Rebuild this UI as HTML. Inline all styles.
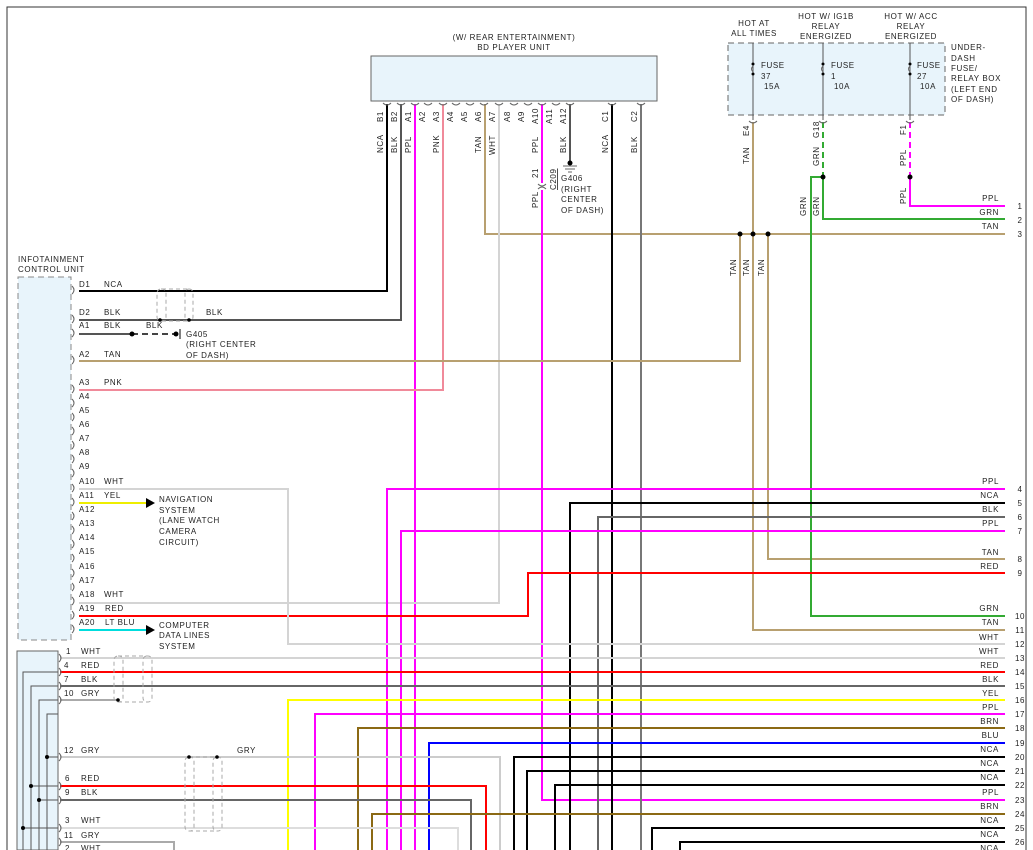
<!DOCTYPE html>
<html><head><meta charset="utf-8"><style>
html,body{margin:0;padding:0;background:#fff;width:1033px;height:850px;overflow:hidden}
svg text{font-family:"Liberation Sans",sans-serif;font-size:8px;fill:#222;letter-spacing:0.6px}
</style></head><body>
<svg width="1033" height="850" viewBox="0 0 1033 850" xmlns="http://www.w3.org/2000/svg">
<g fill="none" stroke-width="2">
<!-- frame -->
<path d="M7 850V7H1026V850" stroke="#333" stroke-width="1"/>
<!-- BD unit -->
<rect x="371" y="56" width="286" height="45" fill="#e8f4fb" stroke="#666" stroke-width="1"/>
<!-- fuse box -->
<rect x="728" y="43" width="217" height="72" fill="#e8f4fb" stroke="#666" stroke-width="1" stroke-dasharray="6,4"/>
<!-- infotainment -->
<rect x="18" y="277" width="53" height="363" fill="#e8f4fb" stroke="#888" stroke-width="1" stroke-dasharray="6,4"/>
<rect x="17" y="651" width="41" height="199" fill="#e8f4fb" stroke="#666" stroke-width="1"/>

<!-- BD pins wires -->
<path d="M387 104V291H79" stroke="#000"/>
<path d="M401 104V320H79" stroke="#555"/>
<path d="M415 104V850" stroke="#f0f"/>
<path d="M443 104V390H79" stroke="#f08a9a"/>
<path d="M485 104V234H1005" stroke="#b8a070"/>
<path d="M499 104V603H79" stroke="#d4d4d4"/>
<path d="M542 104V183M542 190V800H1005" stroke="#f0f"/>
<path d="M570 104V162" stroke="#555"/>
<path d="M612 104V850" stroke="#000"/>
<path d="M641 104V850" stroke="#777"/>
<!-- fuse wires -->
<path d="M753 43V120M823 43V120M910 43V120" stroke="#555" stroke-width="1"/>
<path d="M753 122V630H1005" stroke="#b8a070"/>
<path d="M740 234V361H79" stroke="#b8a070"/>
<path d="M768 234V559H1005" stroke="#b8a070"/>
<path d="M823 122V177" stroke="#3a3" stroke-dasharray="6,4"/>
<path d="M823 177V219H1005" stroke="#3a3"/>
<path d="M823 177H811V616H1005" stroke="#3a3"/>
<path d="M910 122V177" stroke="#f0f" stroke-dasharray="6,4"/>
<path d="M910 177V206H1005" stroke="#f0f"/>
<!-- right wires -->
<path d="M387 850V489H1005" stroke="#f0f"/>
<path d="M570 850V503H1005" stroke="#000"/>
<path d="M598 850V517H1005" stroke="#666"/>
<path d="M401 850V531H1005" stroke="#f0f"/>
<path d="M79 616H528V573H1005" stroke="#f00"/>
<path d="M79 489H288V644H1005" stroke="#d4d4d4"/>
<path d="M60 658H1005" stroke="#d4d4d4"/>
<path d="M60 672H1005" stroke="#f00"/>
<path d="M60 686H1005" stroke="#666"/>
<path d="M60 700H118" stroke="#aaa"/>
<path d="M288 850V700H1005" stroke="#ff0"/>
<path d="M315 850V714H1005" stroke="#f0f"/>
<path d="M358 850V728H1005" stroke="#8b6914"/>
<path d="M429 850V743H1005" stroke="#00f"/>
<path d="M60 757H500V850" stroke="#ccc"/>
<path d="M514 850V757H1005" stroke="#000"/>
<path d="M527 850V771H1005" stroke="#000"/>
<path d="M555 850V785H1005" stroke="#000"/>
<path d="M60 786H486V850" stroke="#f00"/>
<path d="M60 800H471V850" stroke="#666"/>
<path d="M372 850V814H1005" stroke="#8b6914"/>
<path d="M60 828H458V850" stroke="#ddd"/>
<path d="M652 850V828H1005" stroke="#000"/>
<path d="M60 842H174V850" stroke="#aaa"/>
<path d="M680 850V842H1005" stroke="#000"/>
<path d="M79 503H146" stroke="#ee0"/>
<path d="M79 630H146" stroke="#0dd"/>
<!-- left connector internal lines -->
<path d="M23 850V672H58M31 850V686H58M39 850V700H58M47 850V714H58" stroke="#555" stroke-width="1"/>
<path d="M23 828H58M31 786H58M39 800H58M47 757H58" stroke="#555" stroke-width="1"/>
<!-- A1 ground -->
<path d="M79 334H132" stroke="#555"/>
<path d="M132 334H176" stroke="#444" stroke-dasharray="6,4"/>
<path d="M180 329V339" stroke="#000" stroke-width="1"/>
<!-- shields -->
<g stroke="#aaa" stroke-width="1" stroke-dasharray="4,3">
<rect x="157" y="289" width="9" height="32" rx="4"/><rect x="185" y="289" width="8" height="32" rx="4"/>
<rect x="114" y="656" width="9" height="46" rx="4"/><rect x="143" y="656" width="9" height="46" rx="4"/>
<rect x="185" y="757" width="9" height="74" rx="4"/><rect x="213" y="757" width="9" height="74" rx="4"/>
<path d="M162 289H189M162 321H189M118 656H148M118 702H148M189 831H218M189 757H218"/>
</g>
<!-- pin arcs on BD -->
<g stroke="#666" stroke-width="1">
<path d="M383 103q4 4 8 0M397 103q4 4 8 0M411 103q4 4 8 0M424 103q4 4 8 0M439 103q4 4 8 0M452 103q4 4 8 0M466 103q4 4 8 0M480 103q4 4 8 0M495 103q4 4 8 0M510 103q4 4 8 0M524 103q4 4 8 0M538 103q4 4 8 0M552 103q4 4 8 0M566 103q4 4 8 0M608 103q4 4 8 0M637 103q4 4 8 0"/>
<path d="M749 121q4 4 8 0M819 121q4 4 8 0M906 121q4 4 8 0M538 184q4 4 8 0M538 189q4 -4 8 0"/>
<path d="M72 286q4 4 0 8M72 315q4 4 0 8M72 329q4 4 0 8M72 356q4 4 0 8M72 385q4 4 0 8M72 399q4 4 0 8M72 413q4 4 0 8M72 427q4 4 0 8M72 441q4 4 0 8M72 455q4 4 0 8M72 469q4 4 0 8M72 484q4 4 0 8M72 498q4 4 0 8M72 512q4 4 0 8M72 526q4 4 0 8M72 540q4 4 0 8M72 554q4 4 0 8M72 569q4 4 0 8M72 583q4 4 0 8M72 597q4 4 0 8M72 611q4 4 0 8M72 625q4 4 0 8"/>
<path d="M59 654q4 4 0 8M59 668q4 4 0 8M59 682q4 4 0 8M59 696q4 4 0 8M59 753q4 4 0 8M59 782q4 4 0 8M59 796q4 4 0 8M59 824q4 4 0 8M59 838q4 4 0 8"/>
<path d="M753 62v4q-3 3 0 6v4M823 62v4q-3 3 0 6v4M910 62v4q-3 3 0 6v4"/>
<path d="M563 166h14M565 169h10M568 172h4"/>
</g>
</g>
<!-- dots -->
<g fill="#000">
<circle cx="740" cy="234" r="2.5"/><circle cx="753" cy="234" r="2.5"/><circle cx="768" cy="234" r="2.5"/>
<circle cx="823" cy="177" r="2.5"/><circle cx="910" cy="177" r="2.5"/>
<circle cx="132" cy="334" r="2.5"/><circle cx="176" cy="334" r="2.5"/><circle cx="160" cy="320" r="1.8"/><circle cx="189" cy="320" r="1.8"/>
<circle cx="118" cy="700" r="1.8"/><circle cx="189" cy="757" r="1.8"/><circle cx="217" cy="757" r="1.8"/>
<circle cx="47" cy="757" r="2"/><circle cx="31" cy="786" r="2"/><circle cx="39" cy="800" r="2"/><circle cx="23" cy="828" r="2"/>
<circle cx="570" cy="163" r="2.5"/><circle cx="753" cy="64" r="1.5"/><circle cx="753" cy="74" r="1.5"/><circle cx="823" cy="64" r="1.5"/><circle cx="823" cy="74" r="1.5"/><circle cx="910" cy="64" r="1.5"/><circle cx="910" cy="74" r="1.5"/>
<path d="M146 498l9 5-9 5z"/><path d="M146 625l9 5-9 5z"/>
</g>
<!-- text -->
<g>
<text x="514" y="40" text-anchor="middle">(W/ REAR ENTERTAINMENT)</text>
<text x="514" y="50" text-anchor="middle">BD PLAYER UNIT</text>
<text x="754" y="26" text-anchor="middle">HOT AT</text><text x="754" y="36" text-anchor="middle">ALL TIMES</text>
<text x="826" y="19" text-anchor="middle">HOT W/ IG1B</text><text x="826" y="29" text-anchor="middle">RELAY</text><text x="826" y="39" text-anchor="middle">ENERGIZED</text>
<text x="911" y="19" text-anchor="middle">HOT W/ ACC</text><text x="911" y="29" text-anchor="middle">RELAY</text><text x="911" y="39" text-anchor="middle">ENERGIZED</text>
<text x="951" y="50">UNDER-</text><text x="951" y="61">DASH</text><text x="951" y="71">FUSE/</text><text x="951" y="81">RELAY BOX</text><text x="951" y="92">(LEFT END</text><text x="951" y="102">OF DASH)</text>
<text x="761" y="68">FUSE</text><text x="761" y="79">37</text><text x="764" y="89">15A</text>
<text x="831" y="68">FUSE</text><text x="831" y="79">1</text><text x="834" y="89">10A</text>
<text x="917" y="68">FUSE</text><text x="917" y="79">27</text><text x="920" y="89">10A</text>
<text x="18" y="262">INFOTAINMENT</text><text x="18" y="272">CONTROL UNIT</text>
<text x="79" y="287">D1</text><text x="104" y="287">NCA</text>
<text x="79" y="315">D2</text><text x="104" y="315">BLK</text><text x="206" y="315">BLK</text>
<text x="79" y="328">A1</text><text x="104" y="328">BLK</text><text x="146" y="328">BLK</text>
<text x="186" y="337">G405</text><text x="186" y="347">(RIGHT CENTER</text><text x="186" y="358">OF DASH)</text>
<text x="79" y="357">A2</text><text x="104" y="357">TAN</text>
<text x="79" y="385">A3</text><text x="104" y="385">PNK</text>
<text x="79" y="399">A4</text><text x="79" y="413">A5</text><text x="79" y="427">A6</text><text x="79" y="441">A7</text><text x="79" y="455">A8</text><text x="79" y="469">A9</text>
<text x="79" y="484">A10</text><text x="104" y="484">WHT</text>
<text x="79" y="498">A11</text><text x="104" y="498">YEL</text>
<text x="79" y="512">A12</text><text x="79" y="526">A13</text><text x="79" y="540">A14</text><text x="79" y="554">A15</text><text x="79" y="569">A16</text><text x="79" y="583">A17</text>
<text x="79" y="597">A18</text><text x="104" y="597">WHT</text>
<text x="79" y="611">A19</text><text x="105" y="611">RED</text>
<text x="79" y="625">A20</text><text x="105" y="625">LT BLU</text>
<text x="159" y="502">NAVIGATION</text><text x="159" y="513">SYSTEM</text><text x="159" y="523">(LANE WATCH</text><text x="159" y="534">CAMERA</text><text x="159" y="545">CIRCUIT)</text>
<text x="159" y="628">COMPUTER</text><text x="159" y="638">DATA LINES</text><text x="159" y="649">SYSTEM</text>
<text x="66" y="654">1</text><text x="81" y="654">WHT</text>
<text x="64" y="668">4</text><text x="81" y="668">RED</text>
<text x="64" y="682">7</text><text x="81" y="682">BLK</text>
<text x="64" y="696">10</text><text x="81" y="696">GRY</text>
<text x="64" y="753">12</text><text x="81" y="753">GRY</text><text x="237" y="753">GRY</text>
<text x="65" y="781">6</text><text x="81" y="781">RED</text>
<text x="65" y="795">9</text><text x="81" y="795">BLK</text>
<text x="65" y="823">3</text><text x="81" y="823">WHT</text>
<text x="64" y="838">11</text><text x="81" y="838">GRY</text>
<text x="65" y="851">2</text><text x="81" y="851">WHT</text>
<text x="561" y="181">G406</text><text x="561" y="192">(RIGHT</text><text x="561" y="202">CENTER</text><text x="561" y="213">OF DASH)</text>
</g>
<!-- vertical labels -->
<g>
<text transform="translate(383,122) rotate(-90)">B1</text><text transform="translate(383,153) rotate(-90)">NCA</text>
<text transform="translate(397,122) rotate(-90)">B2</text><text transform="translate(397,153) rotate(-90)">BLK</text>
<text transform="translate(411,122) rotate(-90)">A1</text><text transform="translate(411,153) rotate(-90)">PPL</text>
<text transform="translate(425,122) rotate(-90)">A2</text>
<text transform="translate(439,122) rotate(-90)">A3</text><text transform="translate(439,153) rotate(-90)">PNK</text>
<text transform="translate(453,122) rotate(-90)">A4</text>
<text transform="translate(467,122) rotate(-90)">A5</text>
<text transform="translate(481,122) rotate(-90)">A6</text><text transform="translate(481,153) rotate(-90)">TAN</text>
<text transform="translate(495,122) rotate(-90)">A7</text><text transform="translate(495,155) rotate(-90)">WHT</text>
<text transform="translate(510,122) rotate(-90)">A8</text>
<text transform="translate(524,122) rotate(-90)">A9</text>
<text transform="translate(538,124) rotate(-90)">A10</text><text transform="translate(538,153) rotate(-90)">PPL</text>
<text transform="translate(552,124) rotate(-90)">A11</text>
<text transform="translate(566,124) rotate(-90)">A12</text><text transform="translate(566,153) rotate(-90)">BLK</text>
<text transform="translate(608,122) rotate(-90)">C1</text><text transform="translate(608,153) rotate(-90)">NCA</text>
<text transform="translate(637,122) rotate(-90)">C2</text><text transform="translate(637,153) rotate(-90)">BLK</text>
<text transform="translate(538,178) rotate(-90)">21</text><text transform="translate(538,208) rotate(-90)">PPL</text>
<text transform="translate(556,190) rotate(-90)" text-decoration="underline">C209</text>
<text transform="translate(749,136) rotate(-90)">E4</text><text transform="translate(749,164) rotate(-90)">TAN</text>
<text transform="translate(819,138) rotate(-90)">G18</text><text transform="translate(819,166) rotate(-90)">GRN</text>
<text transform="translate(906,135) rotate(-90)">F1</text><text transform="translate(906,166) rotate(-90)">PPL</text>
<text transform="translate(906,204) rotate(-90)">PPL</text>
<text transform="translate(806,216) rotate(-90)">GRN</text><text transform="translate(819,216) rotate(-90)">GRN</text>
<text transform="translate(736,276) rotate(-90)">TAN</text><text transform="translate(749,276) rotate(-90)">TAN</text><text transform="translate(764,276) rotate(-90)">TAN</text>
</g>
<!-- right labels -->
<g text-anchor="end">
<text x="999" y="201">PPL</text><text x="999" y="215">GRN</text><text x="999" y="229">TAN</text>
<text x="999" y="484">PPL</text><text x="999" y="498">NCA</text><text x="999" y="512">BLK</text><text x="999" y="526">PPL</text>
<text x="999" y="555">TAN</text><text x="999" y="569">RED</text><text x="999" y="611">GRN</text><text x="999" y="625">TAN</text>
<text x="999" y="640">WHT</text><text x="999" y="654">WHT</text><text x="999" y="668">RED</text><text x="999" y="682">BLK</text>
<text x="999" y="696">YEL</text><text x="999" y="710">PPL</text><text x="999" y="724">BRN</text><text x="999" y="738">BLU</text>
<text x="999" y="752">NCA</text><text x="999" y="766">NCA</text><text x="999" y="780">NCA</text><text x="999" y="795">PPL</text>
<text x="999" y="809">BRN</text><text x="999" y="823">NCA</text><text x="999" y="837">NCA</text><text x="999" y="851">NCA</text>
</g>
<g text-anchor="middle">
<text x="1020" y="209">1</text><text x="1020" y="223">2</text><text x="1020" y="237">3</text>
<text x="1020" y="492">4</text><text x="1020" y="506">5</text><text x="1020" y="520">6</text><text x="1020" y="534">7</text>
<text x="1020" y="562">8</text><text x="1020" y="576">9</text><text x="1020" y="619">10</text><text x="1020" y="633">11</text>
<text x="1020" y="647">12</text><text x="1020" y="661">13</text><text x="1020" y="675">14</text><text x="1020" y="689">15</text>
<text x="1020" y="703">16</text><text x="1020" y="717">17</text><text x="1020" y="731">18</text><text x="1020" y="746">19</text>
<text x="1020" y="760">20</text><text x="1020" y="774">21</text><text x="1020" y="788">22</text><text x="1020" y="803">23</text>
<text x="1020" y="817">24</text><text x="1020" y="831">25</text><text x="1020" y="845">26</text>
</g>
</svg>
</body></html>
